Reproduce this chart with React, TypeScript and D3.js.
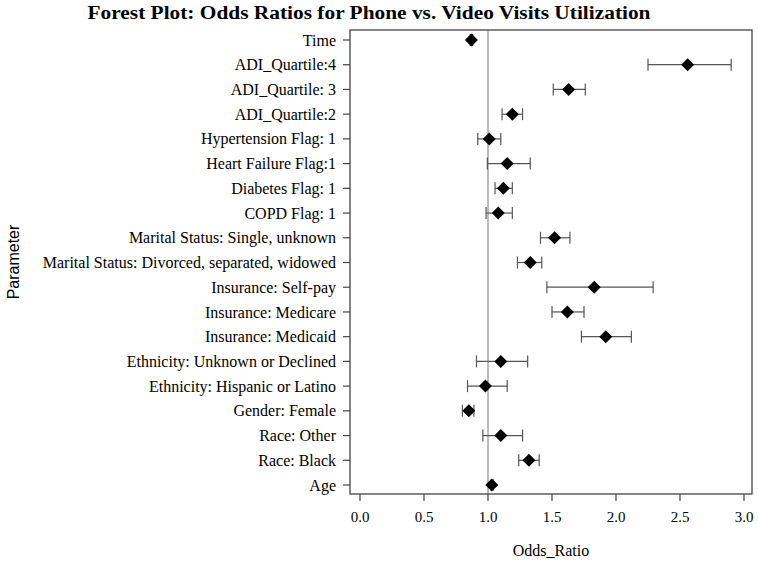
import React from 'react';
import * as d3 from 'd3';

const params = [
  'Time',
  'ADI_Quartile:4',
  'ADI_Quartile: 3',
  'ADI_Quartile:2',
  'Hypertension Flag: 1',
  'Heart Failure Flag:1',
  'Diabetes Flag: 1',
  'COPD Flag: 1',
  'Marital Status: Single, unknown',
  'Marital Status: Divorced, separated, widowed',
  'Insurance: Self-pay',
  'Insurance: Medicare',
  'Insurance: Medicaid',
  'Ethnicity: Unknown or Declined',
  'Ethnicity: Hispanic or Latino',
  'Gender: Female',
  'Race: Other',
  'Race: Black',
  'Age',
];
const oddsRatio = [0.87, 2.56, 1.63, 1.19, 1.01, 1.15, 1.12, 1.08, 1.52, 1.33, 1.83, 1.62, 1.92, 1.10, 0.98, 0.85, 1.10, 1.32, 1.03];
const lowerCL = [0.86, 2.25, 1.51, 1.11, 0.92, 0.995, 1.055, 0.985, 1.41, 1.23, 1.46, 1.50, 1.73, 0.91, 0.84, 0.80, 0.96, 1.24, 1.025];
const upperCL = [0.88, 2.90, 1.76, 1.27, 1.10, 1.33, 1.19, 1.19, 1.64, 1.42, 2.29, 1.75, 2.12, 1.31, 1.15, 0.89, 1.27, 1.40, 1.04];
const xTicks = [0, 0.5, 1, 1.5, 2, 2.5, 3];

const W = 758;
const H = 561;

export default function App() {
  const x = d3.scaleLinear().domain([0, 3]).range([360, 744]);
  const y = d3.scalePoint<string>().domain(params).range([40, 485]);
  const frame = { left: 350, right: 752, top: 30, bottom: 494 };
  const serif = '"Liberation Serif", "Times New Roman", serif';
  const rows = params.map((p, i) => ({ p, or: oddsRatio[i], lo: lowerCL[i], hi: upperCL[i] }));
  const d = 6.5;
  const cap = 6;

  return (
    <svg width={W} height={H} style={{ position: 'absolute', left: 0, top: 0, background: '#fff' }}>
      <text x={W / 2 - 10} y={19} textAnchor="middle" fontFamily={serif} fontWeight="bold" fontSize={18}
        textLength={563} lengthAdjust="spacingAndGlyphs">
        Forest Plot: Odds Ratios for Phone vs. Video Visits Utilization
      </text>

      {/* reference line at OR = 1 */}
      <line x1={x(1)} x2={x(1)} y1={frame.top} y2={frame.bottom} stroke="#bdbdbd" strokeWidth={2} />

      {/* confidence intervals */}
      {rows.map(r => {
        const cy = y(r.p)!;
        return (
          <g key={r.p} stroke="#555" strokeWidth={1.2}>
            <line x1={x(r.lo)} x2={x(r.hi)} y1={cy} y2={cy} />
            <line x1={x(r.lo)} x2={x(r.lo)} y1={cy - cap} y2={cy + cap} />
            <line x1={x(r.hi)} x2={x(r.hi)} y1={cy - cap} y2={cy + cap} />
          </g>
        );
      })}

      {/* point estimates */}
      {rows.map(r => {
        const cx = x(r.or);
        const cy = y(r.p)!;
        return (
          <path key={r.p} d={`M${cx},${cy - d}L${cx + d},${cy}L${cx},${cy + d}L${cx - d},${cy}Z`} fill="#000" />
        );
      })}

      <rect x={frame.left} y={frame.top} width={frame.right - frame.left} height={frame.bottom - frame.top}
        fill="none" stroke="#444" strokeWidth={1.3} />

      {/* y axis */}
      {params.map(p => (
        <g key={p} transform={`translate(0,${y(p)})`}>
          <line x1={frame.left - 7} x2={frame.left} stroke="#444" strokeWidth={1.2} />
          <text x={frame.left - 14} dy="0.35em" textAnchor="end" fontFamily={serif} fontSize={16}>{p}</text>
        </g>
      ))}

      {/* x axis */}
      {xTicks.map(t => (
        <g key={t} transform={`translate(${x(t)},${frame.bottom})`}>
          <line y1={0} y2={7} stroke="#444" strokeWidth={1.2} />
          <text y={28} textAnchor="middle" fontFamily={serif} fontSize={15}>{d3.format('.1f')(t)}</text>
        </g>
      ))}

      <text x={(frame.left + frame.right) / 2} y={556} textAnchor="middle" fontFamily={serif} fontSize={16}>Odds_Ratio</text>
      <text transform={`translate(19,${(frame.top + frame.bottom) / 2}) rotate(-90)`} textAnchor="middle"
        fontFamily='"Liberation Sans", Arial, sans-serif' fontSize={16}>Parameter</text>
    </svg>
  );
}
